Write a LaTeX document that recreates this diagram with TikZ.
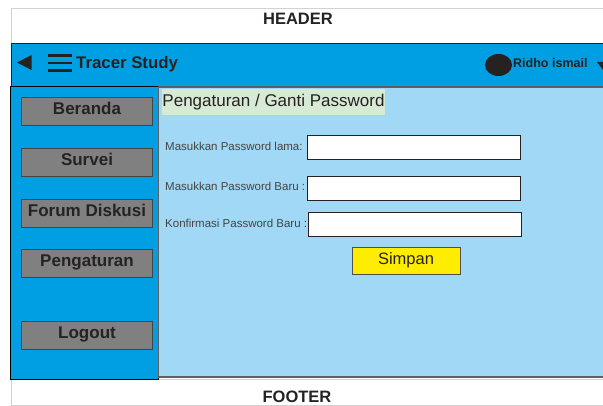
\documentclass[tikz,border=0pt]{standalone}
\usepackage{fontspec}
\setmainfont{Liberation Sans}
\usepackage{tikz}
\usetikzlibrary{
  positioning,
}
\definecolor{barblue}{RGB}{0, 159, 227}
\definecolor{panelblue}{RGB}{160, 216, 245}
\definecolor{titlegreen}{RGB}{214, 234, 214}
\definecolor{btngrey}{RGB}{128, 128, 128}
\definecolor{btnyellow}{RGB}{255, 237, 0}
\definecolor{inkgrey}{RGB}{38, 34, 34}
\tikzstyle{region} = [
  rectangle,
  anchor=north west,
  inner sep=0pt,
  outer sep=0pt,
]
\tikzstyle{menu} = [
  draw=inkgrey!85,
  line width=0.8pt,
  rectangle,
  minimum width=131,
  minimum height=28,
  fill=btngrey,
  inner sep=0pt,
  text depth=6pt,
  text=inkgrey,
  font=\fontsize{17}{17}\selectfont\bfseries,
]
\tikzstyle{field} = [
  draw=inkgrey,
  line width=0.8pt,
  rectangle,
  minimum width=213,
  minimum height=24,
  fill=white,
  anchor=north west,
  inner sep=0pt,
]
\tikzstyle{fieldtext} = [
  anchor=west,
  inner sep=0pt,
  text=inkgrey!85,
  font=\fontsize{11.5}{11.5}\selectfont,
]
\begin{document}
\begin{tikzpicture}[x=1pt,y=-1pt,node distance=22pt and 0pt]
    \useasboundingbox (0,0) rectangle (603,406);
    \fill[white] (0,0) rectangle (603,406);

    % header and footer
    \node[region,draw=gray!35,fill=white,minimum width=600,minimum height=35]    (header) at (11,8.5)    {};
    \node[font=\fontsize{16.5}{16.5}\selectfont\bfseries,text=inkgrey]    (headertext) at (298,19)    {HEADER};
    \node[region,draw=gray!35,fill=white,minimum width=600,minimum height=26]    (footer) at (11,379)    {};
    \node[font=\fontsize{16.5}{16.5}\selectfont\bfseries,text=inkgrey]    (footertext) at (297,397)    {FOOTER};

    % top bar
    \node[region,draw=inkgrey,line width=0.8pt,fill=barblue,minimum width=600,minimum height=43]    (topbar) at (11,43)    {};
    \fill[inkgrey] (17,62.5) -- (31.5,55) -- (31.5,70) -- cycle;
    \foreach \y in {55.5,63,70.5}
        \draw[inkgrey,line width=2.6pt] (48,\y) -- (72,\y);
    \node[anchor=west,inner sep=0pt,text=inkgrey,font=\fontsize{16.8}{16.8}\selectfont\bfseries]    (appname) at (76,64)    {Tracer Study};
    \fill[inkgrey] (498.5,65) ellipse [x radius=13.5pt, y radius=11pt];
    \node[anchor=west,inner sep=0pt,text=inkgrey,font=\fontsize{12.5}{12.5}\selectfont\bfseries]    (username) at (513,63)    {Ridho ismail};
    \fill[inkgrey] (597,62) -- (609,62) -- (603,70) -- cycle;

    % sidebar
    \node[region,draw=black,line width=1pt,fill=barblue,minimum width=148,minimum height=292]    (sidebar) at (10,87)    {};
    \node[menu]    (beranda) at (87,111.5)    {Beranda};
    \node[menu]    (survei)    [below=of beranda]    {Survei};
    \node[menu]    (forum)    [below=of survei]    {Forum Diskusi};
    \node[menu]    (pengaturan)    [below=of forum]    {Pengaturan};
    \node[menu]    (logout)    [below=43pt of pengaturan]    {Logout};

    % content
    \node[region,draw=gray!75!black,line width=1.4pt,fill=panelblue,minimum width=452,minimum height=290]    (content) at (158.5,87)    {};
    \node[region,fill=titlegreen,minimum width=223,minimum height=26,font=\fontsize{17}{17}\selectfont,text=inkgrey]    (title) at (162,89)    {Pengaturan / Ganti Password};

    \node[field]    (pwlama) at (307,135)    {};
    \node[field]    (pwbaru) at (307,176.5)    {};
    \node[field]    (pwkonf) at (308,212.5)    {};
    \node[fieldtext]    (lblama) at (165,146)    {Masukkan Password lama:};
    \node[fieldtext]    (lbbaru) at (165,186)    {Masukkan Password Baru :};
    \node[fieldtext]    (lbkonf) at (165,223)    {Konfirmasi Password Baru :};

    \node[draw=inkgrey!80,line width=0.8pt,rectangle,minimum width=108,minimum height=27,fill=btnyellow,inner sep=0pt,text depth=5pt,text=inkgrey,font=\fontsize{16.5}{16.5}\selectfont]    (simpan) at (406,261)    {Simpan};
\end{tikzpicture}
\end{document}
